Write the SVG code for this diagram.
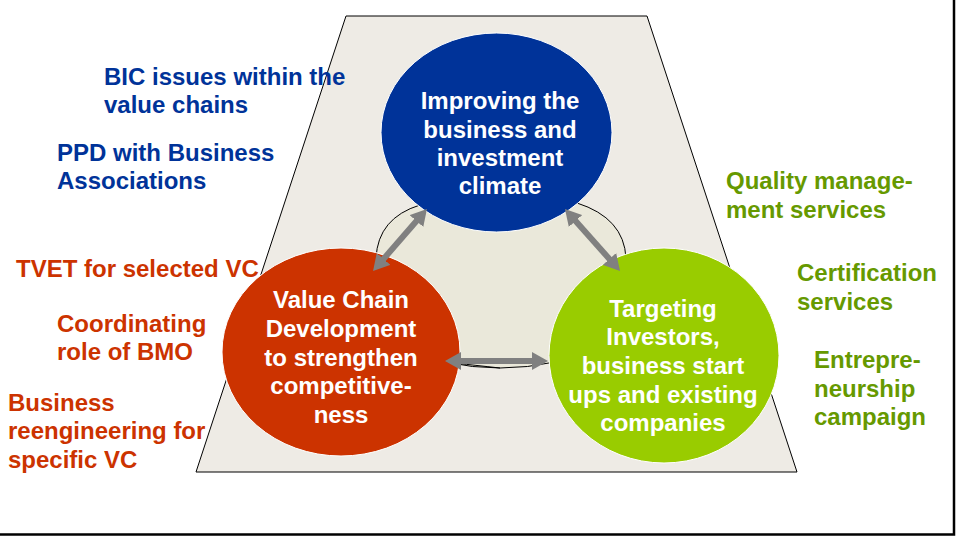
<svg xmlns="http://www.w3.org/2000/svg" width="960" height="540" viewBox="0 0 960 540">
<defs>
<style>
text{font-family:"Liberation Sans",Arial,sans-serif;font-weight:bold;font-size:24px}
.node text{fill:#fff;text-anchor:middle}
.blue{fill:#003399}
.red{fill:#CC3300}
.green{fill:#669900}
.conn{stroke:#808080;stroke-width:6;fill:none;marker-start:url(#ah);marker-end:url(#ah)}
</style>
<marker id="ah" viewBox="0 0 16 18" refX="6" refY="9" markerWidth="16" markerHeight="18" markerUnits="userSpaceOnUse" orient="auto-start-reverse">
<path d="M0,0 L16,9 L0,18 Z" fill="#808080"/>
</marker>
</defs>
<rect x="0" y="0" width="960" height="540" fill="#fff"/>
<path d="M954,0 V534.5 H0" fill="none" stroke="#000" stroke-width="2.5"/>
<path id="trapezoid" d="M346,16 H647 L797,472 H196 Z" fill="#EEEBE5" stroke="#000" stroke-width="1"/>
<path id="inner" d="M500,368 Q445,362 445,362 L376,258 Q378,218 420,205 L577,203 Q624,218 626,258 L555,362 Q500,374 445,362" fill="#EAE8DA" stroke="#000" stroke-width="1"/>
<g id="node-climate" class="node">
<ellipse cx="496.5" cy="132.5" rx="115.5" ry="99.5" fill="#003399" stroke="#fff" stroke-width="1"/>
<text x="500" y="109">Improving the</text>
<text x="500" y="138">business and</text>
<text x="500" y="166">investment</text>
<text x="500" y="194">climate</text>
</g>
<g id="node-vcd" class="node">
<ellipse cx="341" cy="352" rx="119" ry="104" fill="#CC3300" stroke="#fff" stroke-width="1"/>
<text x="341" y="308">Value Chain</text>
<text x="341" y="337">Development</text>
<text x="341" y="366">to strengthen</text>
<text x="341" y="394">competitive-</text>
<text x="341" y="423">ness</text>
</g>
<g id="node-investors" class="node">
<ellipse cx="664" cy="355.5" rx="115" ry="107.5" fill="#99CC00" stroke="#fff" stroke-width="1"/>
<text x="663" y="317">Targeting</text>
<text x="663" y="345">Investors,</text>
<text x="663" y="374">business start</text>
<text x="663" y="403">ups and existing</text>
<text x="663" y="431">companies</text>
</g>
<g id="connectors">
<line class="conn" x1="420.4" y1="216.5" x2="379.6" y2="263.5"/>
<line class="conn" x1="571.6" y1="216.5" x2="613.4" y2="263.5"/>
<line class="conn" x1="455" y1="361" x2="538" y2="361"/>
</g>
<g id="labels-blue" class="blue">
<text x="104" y="85">BIC issues within the</text>
<text x="104" y="113">value chains</text>
<text x="57" y="161">PPD with Business</text>
<text x="57" y="189">Associations</text>
</g>
<g id="labels-red" class="red">
<text x="16" y="277">TVET for selected VC</text>
<text x="57" y="332">Coordinating</text>
<text x="57" y="360">role of BMO</text>
<text x="8" y="411">Business</text>
<text x="8" y="439">reengineering for</text>
<text x="8" y="468">specific VC</text>
</g>
<g id="labels-green" class="green">
<text x="726" y="189">Quality manage-</text>
<text x="726" y="218">ment services</text>
<text x="797" y="281">Certification</text>
<text x="797" y="310">services</text>
<text x="814" y="368">Entrepre-</text>
<text x="814" y="397">neurship</text>
<text x="814" y="425">campaign</text>
</g>
</svg>
